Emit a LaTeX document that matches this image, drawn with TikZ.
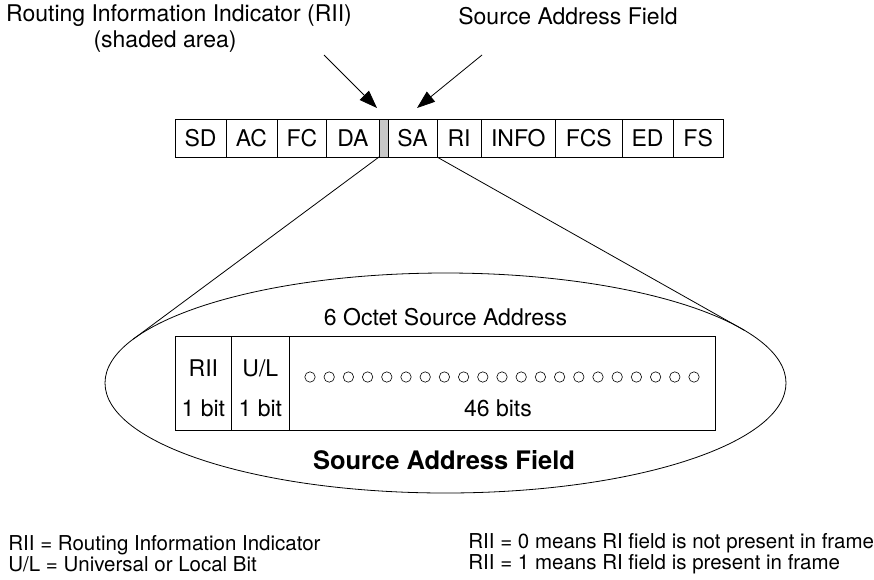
\documentclass[tikz,border=0pt]{standalone}
\usepackage{fontspec}
\setmainfont{TeX Gyre Heros}
\usetikzlibrary{arrows.meta,shapes.geometric}
\tikzset{
  txt/.style={font=\fontsize{23}{27}\selectfont, inner sep=0pt},
  legend/.style={font=\fontsize{20.5}{21}\selectfont, inner sep=0pt, align=left, anchor=west},
  field/.style={draw, txt, minimum height=38pt, outer sep=0pt},
  bitcell/.style={draw, minimum height=94pt, inner sep=0pt, outer sep=0pt},
  pointer/.style={-{Triangle[length=18pt,width=13pt]}},
}
\begin{document}
\begin{tikzpicture}[x=1pt,y=-1pt,line width=0.8pt]
    \useasboundingbox (0,0) rectangle (874,579);
    %Labels on top
    \node[txt] (riilabel) at (179,16) {Routing Information Indicator (RII)};
    \node[txt] (riinote) at (165,42) {(shaded area)};
    \node[txt] (salabel) at (568,16) {Source Address Field};
    %Frame
    \foreach \l/\r/\n/\t in {175/226/sd/SD,226/277/ac/AC,277/326.7/fc/FC,326.7/379/da/DA,
        388/437/sa/SA,437/481/ri/RI,481/555.5/info/INFO,555.5/622/fcs/FCS,622/673/ed/ED,673/723.3/fs/FS}
      \node[field, minimum width={(\r-\l)*1pt}] (\n) at ({(\l+\r)/2},138) {\t};
    \node[field, fill=black!22, minimum width=9pt] (rii) at (383.5,138) {};
    %Pointers
    \coordinate (riitail) at (324,55);
    \coordinate (riitip) at (377,108);
    \coordinate (satail) at (482,55);
    \coordinate (satip) at (417,108);
    \draw[pointer] (riitail) -- (riitip);
    \draw[pointer] (satail) -- (satip);
    %Zoom ellipse
    \node[draw, ellipse, minimum width=681pt, minimum height=220pt, inner sep=0pt, outer sep=0pt] (sadr) at (445.5,383) {};
    \draw (rii.south west) -- (sadr.172);
    \draw (sa.south east) -- (sadr.10.6);
    %Address bits
    \node[txt] (octet) at (445.5,317) {6 Octet Source Address};
    \node[bitcell, minimum width=56.7pt] (riibit) at (203.35,383) {};
    \node[bitcell, minimum width=57.3pt] (ulbit) at (260.35,383) {};
    \node[bitcell, minimum width=426.7pt] (addr) at (502.35,383) {};
    \node[txt] (riiname) at (203.35,368) {RII};
    \node[txt] (ulname) at (260.35,368) {U/L};
    \node[txt] (riisize) at (203.35,408) {1 bit};
    \node[txt] (ulsize) at (260.35,408) {1 bit};
    \node[txt] (addrsize) at (498,408) {46 bits};
    \foreach \i in {0,...,20}
      \draw[line width=0.6pt] (310+\i*19.2,377) circle (5.2);
    \node[txt, font=\fontsize{25.5}{30}\selectfont\bfseries] (safield) at (444,460) {Source Address Field};
    %Legend
    \node[legend] (legleft) at (8,554) {RII = Routing Information Indicator\\U/L = Universal or Local Bit};
    \node[legend] (legright) at (468,554) {RII = 0 means RI field is not present in frame\\RII = 1 means RI field is present in frame};
\end{tikzpicture}
\end{document}
